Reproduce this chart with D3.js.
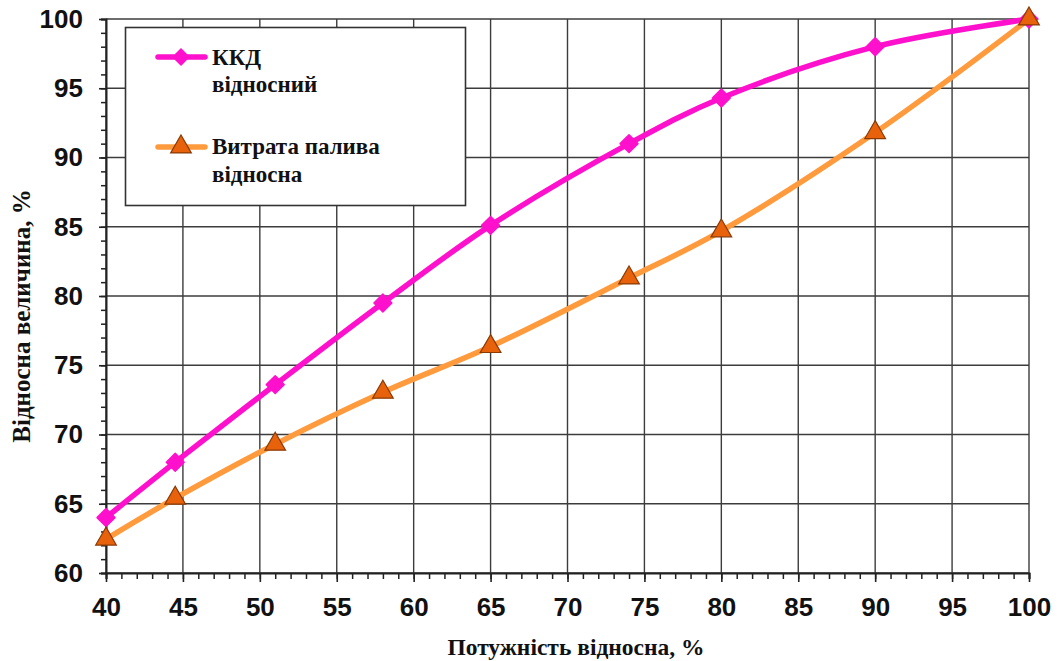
<!DOCTYPE html>
<html><head><meta charset="utf-8">
<script src="https://cdn.jsdelivr.net/npm/d3@7/dist/d3.min.js"></script>
<style>body{margin:0;background:#fff}
.serif{font-family:'Liberation Serif','Times New Roman','DejaVu Serif',serif;font-weight:bold}
.sans{font-family:'Liberation Sans',Arial,sans-serif;font-weight:bold}
</style>
</head><body>
<svg id="c" width="1057" height="661"></svg>
<script>
const powerX = [40, 44.5, 51, 58, 65, 74, 80, 90, 100];
const efficiency = [64.0, 68.0, 73.6, 79.5, 85.1, 91.0, 94.3, 98.0, 100];
const fuel = [62.45, 65.4, 69.3, 73.05, 76.35, 81.3, 84.7, 91.8, 100];
const xTicks = [40,45,50,55,60,65,70,75,80,85,90,95,100];
const yTicks = [60,65,70,75,80,85,90,95,100];
const seriesNames = [["ККД","відносний"],["Витрата палива","відносна"]];
const xTitle = "Потужність відносна, %";
const yTitle = "Відносна величина, %";

const svg = d3.select("#c");
const L=106, R=1029, T=19, B=573;
const x = d3.scaleLinear().domain([40,100]).range([L,R]);
const y = d3.scaleLinear().domain([60,100]).range([B,T]);
const gridC = "#3c3c3c";

// grid
const g = svg.append("g");
g.selectAll(".vg").data(xTicks).join("line")
  .attr("x1",d=>x(d)).attr("x2",d=>x(d)).attr("y1",T).attr("y2",B)
  .attr("stroke",gridC).attr("stroke-width",1.4);
g.selectAll(".hg").data(yTicks).join("line")
  .attr("x1",L).attr("x2",R).attr("y1",d=>y(d)).attr("y2",d=>y(d))
  .attr("stroke",gridC).attr("stroke-width",1.4);

// axes
const minorX = d3.range(40,101,1);
const minorY = d3.range(60,101,1);
const xAx = svg.append("g").attr("transform",`translate(0,${B})`);
xAx.call(d3.axisBottom(x).tickValues(minorX).tickSize(6).tickFormat(""));
xAx.selectAll(".tick line").attr("stroke","#222").attr("stroke-width",1.5);
xAx.select(".domain").attr("stroke","#222").attr("stroke-width",2);
const xAx2 = svg.append("g").attr("transform",`translate(0,${B})`);
xAx2.call(d3.axisBottom(x).tickValues(xTicks).tickSize(9).tickPadding(16).tickFormat(d3.format("d")));
xAx2.select(".domain").remove();
xAx2.selectAll(".tick line").attr("stroke","#222").attr("stroke-width",1.6);
xAx2.selectAll(".tick text").attr("class","sans").attr("font-size",26).attr("fill","#111");

const yAx = svg.append("g").attr("transform",`translate(${L},0)`);
yAx.call(d3.axisLeft(y).tickValues(minorY).tickSize(5).tickFormat(""));
yAx.selectAll(".tick line").attr("stroke","#222").attr("stroke-width",1.5);
yAx.select(".domain").attr("stroke","#222").attr("stroke-width",2);
const yAx2 = svg.append("g").attr("transform",`translate(${L},0)`);
yAx2.call(d3.axisLeft(y).tickValues(yTicks).tickSize(7).tickPadding(16).tickFormat(d3.format("d")));
yAx2.select(".domain").remove();
yAx2.selectAll(".tick line").attr("stroke","#222").attr("stroke-width",1.6);
yAx2.selectAll(".tick text").attr("class","sans").attr("font-size",26).attr("fill","#111");

// titles
svg.append("text").attr("class","serif").attr("x",576).attr("y",655).attr("text-anchor","middle")
  .attr("font-size",23.5).attr("fill","#111").text(xTitle);
svg.append("text").attr("class","serif").attr("transform","translate(30,316) rotate(-90)").attr("text-anchor","middle")
  .attr("font-size",25).attr("fill","#111").text(yTitle);

// lines
const pink="#ff10cc", orange="#ff9a3d", triFill="#e8620c", triStroke="#8a3a05";
const line = d3.line().x(d=>x(d[0])).y(d=>y(d[1])).curve(d3.curveCatmullRom.alpha(0.5));
const effData = powerX.map((p,i)=>[p,efficiency[i]]);
const fuelData = powerX.map((p,i)=>[p,fuel[i]]);
svg.append("path").datum(fuelData).attr("d",line).attr("fill","none")
  .attr("stroke",orange).attr("stroke-width",5.5).attr("stroke-linejoin","round");
svg.append("path").datum(effData).attr("d",line).attr("fill","none")
  .attr("stroke",pink).attr("stroke-width",5.5).attr("stroke-linejoin","round");

const diamond = d3.symbol().type(d3.symbolSquare).size(160);
const tri = d3.symbol().type(d3.symbolTriangle).size(185);
svg.selectAll(".dm").data(effData).join("path")
  .attr("d",diamond).attr("transform",d=>`translate(${x(d[0])},${y(d[1])}) rotate(45)`)
  .attr("fill",pink).attr("stroke",pink).attr("stroke-width",1.5).attr("stroke-linejoin","round");
svg.selectAll(".tr").data(fuelData).join("path")
  .attr("d",tri).attr("transform",d=>`translate(${x(d[0])},${y(d[1])})`)
  .attr("fill",triFill).attr("stroke",triStroke).attr("stroke-width",1.2);

// legend
const lg = svg.append("g");
lg.append("rect").attr("x",125.5).attr("y",27.5).attr("width",340).attr("height",178)
  .attr("fill","#fff").attr("stroke","#333").attr("stroke-width",1.6);
const legY=[57,147], colors=[pink,orange];
seriesNames.forEach((nm,i)=>{
  lg.append("line").attr("x1",158).attr("x2",205).attr("y1",legY[i]).attr("y2",legY[i])
    .attr("stroke",colors[i]).attr("stroke-width",5.5).attr("stroke-linecap","round");
  if(i===0){
    lg.append("path").attr("d",diamond).attr("transform",`translate(181,${legY[i]}) rotate(45)`).attr("fill",pink);
  } else {
    lg.append("path").attr("d",tri).attr("transform",`translate(181,${legY[i]})`)
      .attr("fill",triFill).attr("stroke",triStroke).attr("stroke-width",1.2);
  }
  const base = i===0?[65,92]:[154,182];
  nm.forEach((t,j)=>{
    lg.append("text").attr("class","serif").attr("x",212).attr("y",base[j])
      .attr("font-size",23).attr("fill","#111").text(t);
  });
});
</script>
</body></html>
